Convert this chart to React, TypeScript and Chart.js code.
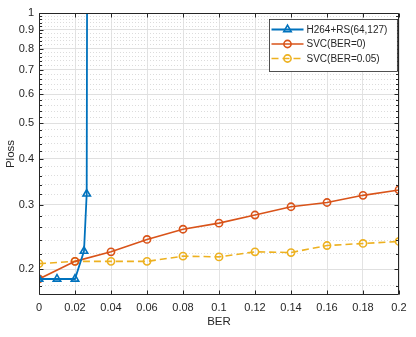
import React, { useEffect, useRef } from "react";
import { Chart, registerables } from "chart.js";

Chart.register(...registerables);

const berH264 = [0, 0.01, 0.02, 0.025, 0.0265, 0.0267];
const plossH264 = [0.188, 0.188, 0.188, 0.224, 0.321, 1.05];

const berSvc = [0, 0.02, 0.04, 0.06, 0.08, 0.1, 0.12, 0.14, 0.16, 0.18, 0.2];
const plossSvc0 = [0.188, 0.21, 0.223, 0.241, 0.257, 0.267, 0.281, 0.296, 0.304, 0.318, 0.329];
const plossSvc005 = [0.207, 0.21, 0.21, 0.21, 0.217, 0.216, 0.223, 0.222, 0.232, 0.235, 0.238];

const seriesLabels = ["H264+RS(64,127)", "SVC(BER=0)", "SVC(BER=0.05)"];
const xTicks = [0, 0.02, 0.04, 0.06, 0.08, 0.1, 0.12, 0.14, 0.16, 0.18, 0.2];
const yMajorTicks = [0.2, 0.3, 0.4, 0.5, 0.6, 0.7, 0.8, 0.9, 1];
const yMinorTicks = [0.18, 0.22, 0.24, 0.26, 0.28, 0.32, 0.34, 0.36, 0.38, 0.42, 0.44, 0.46, 0.48,
  0.52, 0.54, 0.56, 0.58, 0.62, 0.64, 0.66, 0.68, 0.72, 0.74, 0.76, 0.78, 0.82, 0.84, 0.86, 0.88,
  0.92, 0.94, 0.96, 0.98];

const FONT = "'Liberation Sans', Arial, Helvetica, sans-serif";
const AXIS = "#262626";
const BLUE = "#0072BD";
const RED = "#D95319";
const YELLOW = "#EDB120";

const isMajor = (v: number) => yMajorTicks.some((m) => Math.abs(m - v) < 1e-6);

function drawMarker(ctx: CanvasRenderingContext2D, style: string, x: number, y: number, r: number) {
  ctx.beginPath();
  if (style === "triangle") {
    let rad = 0;
    ctx.moveTo(x + Math.sin(rad) * r, y - Math.cos(rad) * r);
    rad += (2 * Math.PI) / 3;
    ctx.lineTo(x + Math.sin(rad) * r, y - Math.cos(rad) * r);
    rad += (2 * Math.PI) / 3;
    ctx.lineTo(x + Math.sin(rad) * r, y - Math.cos(rad) * r);
    ctx.closePath();
  } else {
    ctx.arc(x, y, r, 0, Math.PI * 2);
  }
  ctx.stroke();
}

const boxPlugin = {
  id: "matlabBox",
  afterDatasetsDraw(chart: any) {
    const { ctx, chartArea } = chart;
    const xs = chart.scales.x;
    const ys = chart.scales.y;
    const L = Math.round(chartArea.left) + 0.5;
    const R = Math.round(chartArea.right) - 0.5;
    const T = Math.round(chartArea.top) + 0.5;
    const B = Math.round(chartArea.bottom) - 0.5;
    ctx.save();
    ctx.strokeStyle = AXIS;
    ctx.lineWidth = 1;
    ctx.setLineDash([]);
    ctx.beginPath();
    ctx.rect(L, T, R - L, B - T);
    ctx.stroke();
    ctx.beginPath();
    xTicks.forEach((v) => {
      const px = Math.round(xs.getPixelForValue(v)) + 0.5;
      ctx.moveTo(px, B);
      ctx.lineTo(px, B - 4);
      ctx.moveTo(px, T);
      ctx.lineTo(px, T + 4);
    });
    yMajorTicks.concat(yMinorTicks).forEach((v) => {
      const py = Math.round(ys.getPixelForValue(v)) + 0.5;
      const len = isMajor(v) ? 4 : 2.5;
      ctx.moveTo(L, py);
      ctx.lineTo(L + len, py);
      ctx.moveTo(R, py);
      ctx.lineTo(R - len, py);
    });
    ctx.stroke();

    // legend
    ctx.font = `10px ${FONT}`;
    const tw = Math.max(...seriesLabels.map((s) => ctx.measureText(s).width));
    const w = 2 + 32 + 3 + tw + 10;
    const h = 52;
    const bx = Math.round(chartArea.right - 2 - w) + 0.5;
    const by = Math.round(chartArea.top + 6) + 0.5;
    ctx.fillStyle = "#ffffff";
    ctx.fillRect(bx, by, w, h);
    ctx.strokeStyle = AXIS;
    ctx.lineWidth = 0.8;
    ctx.strokeRect(bx, by, w, h);
    ctx.textBaseline = "middle";
    ctx.textAlign = "left";
    chart.data.datasets.forEach((ds: any, i: number) => {
      const ry = by + 10 + i * 14.5;
      ctx.strokeStyle = ds.borderColor;
      ctx.lineWidth = ds.borderWidth;
      ctx.setLineDash(ds.borderDash || []);
      ctx.beginPath();
      ctx.moveTo(bx + 2, ry);
      ctx.lineTo(bx + 34, ry);
      ctx.stroke();
      ctx.setLineDash([]);
      ctx.lineWidth = ds.pointBorderWidth;
      drawMarker(ctx, ds.pointStyle, bx + 18, ry, ds.pointRadius);
      ctx.fillStyle = AXIS;
      ctx.fillText(seriesLabels[i], bx + 37, ry + 0.5);
    });
    ctx.restore();
  },
};

export default function App() {
  const ref = useRef<HTMLCanvasElement | null>(null);
  useEffect(() => {
    document.body.style.margin = "0";
    const canvas = ref.current;
    if (!canvas) return;
    const chart = new Chart(canvas, {
      type: "line",
      data: {
        datasets: [
          {
            label: seriesLabels[0],
            data: berH264.map((x, i) => ({ x, y: plossH264[i] })),
            borderColor: BLUE,
            backgroundColor: "transparent",
            fill: false,
            borderWidth: 1.8,
            pointStyle: "triangle",
            pointRadius: 4.3,
            pointBorderWidth: 1.6,
            pointBorderColor: BLUE,
            pointBackgroundColor: "rgba(0,0,0,0)",
            tension: 0,
          },
          {
            label: seriesLabels[1],
            data: berSvc.map((x, i) => ({ x, y: plossSvc0[i] })),
            borderColor: RED,
            backgroundColor: "transparent",
            fill: false,
            borderWidth: 1.6,
            pointStyle: "circle",
            pointRadius: 3.6,
            pointBorderWidth: 1.6,
            pointBorderColor: RED,
            pointBackgroundColor: "rgba(0,0,0,0)",
            tension: 0,
          },
          {
            label: seriesLabels[2],
            data: berSvc.map((x, i) => ({ x, y: plossSvc005[i] })),
            borderColor: YELLOW,
            backgroundColor: "transparent",
            fill: false,
            borderWidth: 1.6,
            borderDash: [7, 4],
            pointStyle: "circle",
            pointRadius: 3.6,
            pointBorderWidth: 1.6,
            pointBorderColor: YELLOW,
            pointBackgroundColor: "rgba(0,0,0,0)",
            tension: 0,
          },
        ] as any,
      },
      options: {
        responsive: false,
        animation: false,
        maintainAspectRatio: false,
        layout: { padding: { top: 13, right: 17, bottom: 0, left: 0 } },
        plugins: {
          legend: { display: false },
          tooltip: { enabled: false },
        },
        scales: {
          x: {
            type: "linear",
            min: 0,
            max: 0.2,
            afterBuildTicks: (scale: any) => {
              scale.ticks = xTicks.map((v) => ({ value: v }));
            },
            afterFit: (scale: any) => {
              scale.height = 42;
            },
            ticks: {
              autoSkip: false,
              maxRotation: 0,
              padding: 6,
              color: AXIS,
              font: { family: FONT, size: 11 },
              callback: (v: any) => String(+Number(v).toFixed(3)),
            },
            grid: { color: "#e3e3e3", drawTicks: false, lineWidth: 1 },
            border: { display: false },
            title: {
              display: true,
              text: "BER",
              color: AXIS,
              font: { family: FONT, size: 11.5 },
              padding: { top: 0, bottom: 8 },
            },
          },
          y: {
            type: "logarithmic",
            min: 0.17,
            max: 1,
            afterBuildTicks: (scale: any) => {
              scale.ticks = yMinorTicks
                .concat(yMajorTicks)
                .sort((a, b) => a - b)
                .map((v) => ({ value: v, major: isMajor(v) }));
            },
            afterFit: (scale: any) => {
              scale.width = 39;
            },
            ticks: {
              autoSkip: false,
              padding: 5,
              color: AXIS,
              font: { family: FONT, size: 11 },
              callback: (v: any) => (isMajor(Number(v)) ? String(+Number(v).toFixed(2)) : ""),
            },
            grid: {
              drawTicks: false,
              lineWidth: 1,
              color: (ctx: any) => (ctx.tick && isMajor(ctx.tick.value) ? "#e0e0e0" : "#dcdcdc"),
            },
            border: {
              display: false,
              dash: (ctx: any) => (ctx.tick && !isMajor(ctx.tick.value) ? [1, 2] : []),
            },
            title: {
              display: true,
              text: "Ploss",
              color: AXIS,
              font: { family: FONT, size: 11.5 },
              padding: { top: 4, bottom: 0 },
            },
          },
        },
      } as any,
      plugins: [boxPlugin],
    });
    return () => chart.destroy();
  }, []);
  return <canvas ref={ref} width={416} height={337} style={{ display: "block" }} />;
}
